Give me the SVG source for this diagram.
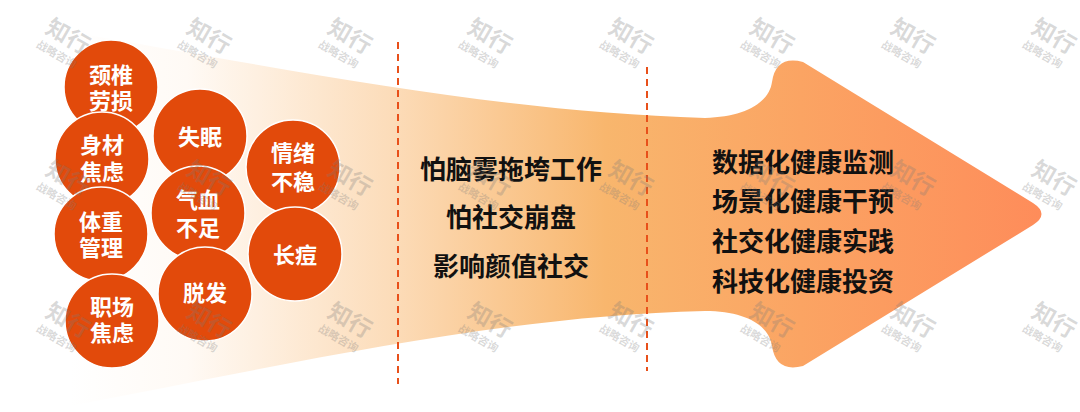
<svg xmlns="http://www.w3.org/2000/svg" xmlns:xlink="http://www.w3.org/1999/xlink" width="1080" height="412" viewBox="0 0 1080 412">
  <style>
    .ct { font-family: "Noto Sans CJK SC", "Noto Sans", sans-serif; font-weight: 700; font-size: 22px; fill: #ffffff; text-anchor: middle; }
    .bt { font-family: "Noto Sans CJK SC", "Noto Sans", sans-serif; font-weight: 700; font-size: 26px; fill: #111111; }
    .circ { fill: #e24a0b; stroke: #ffffff; stroke-width: 1.5; }
    .dash { stroke: #e8501a; stroke-width: 2; stroke-dasharray: 7 5; fill: none; }
    .wm { font-family: "Noto Sans CJK SC", sans-serif; font-weight: 700; fill: #7a7a7a; fill-opacity: 0.28; }
  </style>
  <defs>
    <linearGradient id="g" gradientUnits="userSpaceOnUse" x1="70" y1="0" x2="1045" y2="0">
      <stop offset="0" stop-color="#ffffff"/>
      <stop offset="0.12" stop-color="#fffaf5"/>
      <stop offset="0.33" stop-color="#fcdcb9"/>
      <stop offset="0.55" stop-color="#f8b66d"/>
      <stop offset="0.75" stop-color="#fba463"/>
      <stop offset="1" stop-color="#fe8c5a"/>
    </linearGradient>
    <g id="wmk">
      <text class="wm" x="0" y="0" font-size="23">知行</text>
      <text class="wm" x="0" y="17" font-size="11">战略咨询</text>
    </g>
  </defs>
  <rect width="1080" height="412" fill="#ffffff"/>

  <g id="arrow">
    <path fill="url(#g)" d="M60,30 C300,72 500,112 705,118 C745,117 769,103 772,82 Q776,55 803,62 L1033,203 Q1050,214 1033,225 L803,366 Q776,373 772,346 C769,325 745,311 705,311 C500,316 300,362 70,406 Z"/>
  </g>

  <g id="connectors">
    <line class="dash" x1="398" y1="42" x2="398" y2="384"/>
    <line class="dash" x1="647" y1="67" x2="647" y2="371"/>
  </g>

  <g id="n-jingzhui"><circle class="circ" cx="111" cy="87" r="47"/><text class="ct" x="111" y="83">颈椎</text><text class="ct" x="111" y="109">劳损</text></g>
  <g id="n-shencai"><circle class="circ" cx="102" cy="159" r="47"/><text class="ct" x="102" y="153">身材</text><text class="ct" x="102" y="180">焦虑</text></g>
  <g id="n-tizhong"><circle class="circ" cx="101" cy="234" r="47"/><text class="ct" x="101" y="230">体重</text><text class="ct" x="101" y="256">管理</text></g>
  <g id="n-zhichang"><circle class="circ" cx="112" cy="321" r="47"/><text class="ct" x="112" y="315">职场</text><text class="ct" x="112" y="341">焦虑</text></g>
  <g id="n-shimian"><circle class="circ" cx="200" cy="136" r="47"/><text class="ct" x="200" y="145">失眠</text></g>
  <g id="n-qixue"><circle class="circ" cx="198" cy="213" r="47"/><text class="ct" x="198" y="208">气血</text><text class="ct" x="198" y="236">不足</text></g>
  <g id="n-tuofa"><circle class="circ" cx="205" cy="294" r="47"/><text class="ct" x="205" y="301">脱发</text></g>
  <g id="n-qingxu"><circle class="circ" cx="293" cy="167" r="47"/><text class="ct" x="293" y="161">情绪</text><text class="ct" x="293" y="190">不稳</text></g>
  <g id="n-zhangdou"><circle class="circ" cx="295" cy="254" r="47"/><text class="ct" x="295" y="263">长痘</text></g>

  <g id="mid-text">
    <text class="bt" x="511" y="179" text-anchor="middle">怕脑雾拖垮工作</text>
    <text class="bt" x="511" y="227" text-anchor="middle">怕社交崩盘</text>
    <text class="bt" x="511" y="276" text-anchor="middle">影响颜值社交</text>
  </g>

  <g id="right-text">
    <text class="bt" x="712" y="172">数据化健康监测</text>
    <text class="bt" x="712" y="211">场景化健康干预</text>
    <text class="bt" x="712" y="251">社交化健康实践</text>
    <text class="bt" x="712" y="291">科技化健康投资</text>
  </g>

  <g id="watermarks">
    <use xlink:href="#wmk" transform="translate(44,32) rotate(30)"/>
    <use xlink:href="#wmk" transform="translate(185,32) rotate(30)"/>
    <use xlink:href="#wmk" transform="translate(326,32) rotate(30)"/>
    <use xlink:href="#wmk" transform="translate(466,32) rotate(30)"/>
    <use xlink:href="#wmk" transform="translate(607,32) rotate(30)"/>
    <use xlink:href="#wmk" transform="translate(748,32) rotate(30)"/>
    <use xlink:href="#wmk" transform="translate(889,32) rotate(30)"/>
    <use xlink:href="#wmk" transform="translate(1030,32) rotate(30)"/>
    <use xlink:href="#wmk" transform="translate(44,174) rotate(30)"/>
    <use xlink:href="#wmk" transform="translate(185,174) rotate(30)"/>
    <use xlink:href="#wmk" transform="translate(326,174) rotate(30)"/>
    <use xlink:href="#wmk" transform="translate(466,174) rotate(30)"/>
    <use xlink:href="#wmk" transform="translate(607,174) rotate(30)"/>
    <use xlink:href="#wmk" transform="translate(748,174) rotate(30)"/>
    <use xlink:href="#wmk" transform="translate(889,174) rotate(30)"/>
    <use xlink:href="#wmk" transform="translate(1030,174) rotate(30)"/>
    <use xlink:href="#wmk" transform="translate(44,316) rotate(30)"/>
    <use xlink:href="#wmk" transform="translate(185,316) rotate(30)"/>
    <use xlink:href="#wmk" transform="translate(326,316) rotate(30)"/>
    <use xlink:href="#wmk" transform="translate(466,316) rotate(30)"/>
    <use xlink:href="#wmk" transform="translate(607,316) rotate(30)"/>
    <use xlink:href="#wmk" transform="translate(748,316) rotate(30)"/>
    <use xlink:href="#wmk" transform="translate(889,316) rotate(30)"/>
    <use xlink:href="#wmk" transform="translate(1030,316) rotate(30)"/>
  </g>
</svg>
